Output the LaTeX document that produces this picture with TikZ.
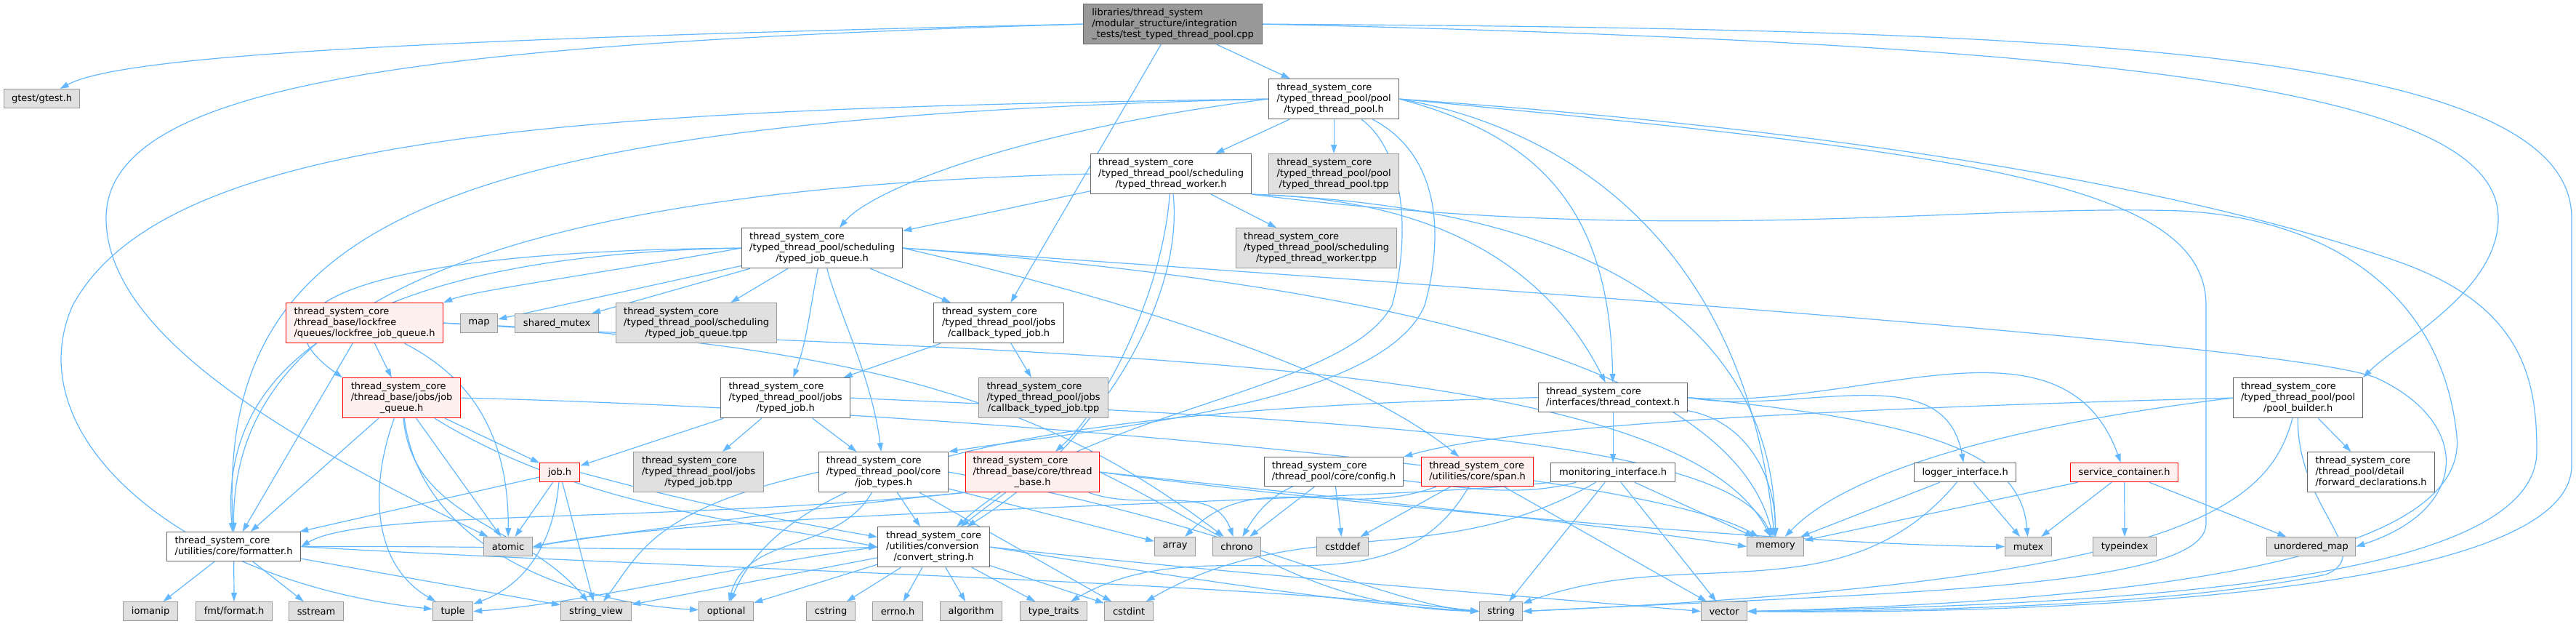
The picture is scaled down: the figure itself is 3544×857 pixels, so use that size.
\documentclass[tikz,border=0pt]{standalone}
\usepackage{fontspec}
\setmainfont{DejaVu Sans}
\usetikzlibrary{arrows.meta, positioning}
\definecolor{edgeblue}{HTML}{63B8FF}
\definecolor{rootgray}{HTML}{999999}
\definecolor{sysgray}{HTML}{E0E0E0}
\definecolor{redfill}{HTML}{FFF0F0}
\pgfdeclarelayer{background}
\pgfsetlayers{background,main}
\newcommand{\hpath}[2]{\begin{tabular}{@{}l@{}}#1\\\multicolumn{1}{@{}c@{}}{#2}\end{tabular}}

\begin{document}
\begin{tikzpicture}[x=0.25pt, y=-0.25pt,
  hbox/.style={draw, anchor=north west, inner sep=0pt, line width=0.3pt,
    font=\fontsize{3.25}{3.75}\selectfont, minimum width=#1*0.25pt},
  wbox/.style={hbox=#1, draw=black!60, fill=white},
  gbox/.style={hbox=#1, draw=black!40, fill=sysgray},
  rbox/.style={hbox=#1, draw=red, fill=redfill},
  rootbox/.style={hbox=#1, draw=black!60, fill=rootgray},
  h1/.style={minimum height=6.5pt},
  h2/.style={minimum height=10pt},
  h3/.style={minimum height=13.75pt},
  edge/.style={draw=edgeblue, line width=0.3pt, -{Triangle[length=3pt,width=2pt]}}
]
  \useasboundingbox (0,0) rectangle (3544,857);

  % top rows
  \node[rootbox=246, h3] (root) at (1490,5) {\hpath{libraries/thread\_system\\/modular\_structure/integration}{\_tests/test\_typed\_thread\_pool.cpp}};
  \node[gbox=104, h1] (gtest) at (5,122) {gtest/gtest.h};
  \node[wbox=179, h3] (ttpool) at (1745,108) {\hpath{thread\_system\_core\\/typed\_thread\_pool/pool}{/typed\_thread\_pool.h}};
  \node[wbox=221, h3] (ttworker) at (1500,211) {\hpath{thread\_system\_core\\/typed\_thread\_pool/scheduling}{/typed\_thread\_worker.h}};
  \node[gbox=179, h3] (ttpooltpp) at (1745,211) {\hpath{thread\_system\_core\\/typed\_thread\_pool/pool}{/typed\_thread\_pool.tpp}};
  \node[gbox=221, h3] (workertpp) at (1700,313) {\hpath{thread\_system\_core\\/typed\_thread\_pool/scheduling}{/typed\_thread\_worker.tpp}};
  \node[wbox=221, h3] (jobqueue) at (1020,313) {\hpath{thread\_system\_core\\/typed\_thread\_pool/scheduling}{/typed\_job\_queue.h}};

  \node[rbox=216, h3] (lockfree) at (393,416) {\hpath{thread\_system\_core\\/thread\_base/lockfree}{/queues/lockfree\_job\_queue.h}};
  \node[gbox=51, h1] (map) at (633,431) {map};
  \node[gbox=115, h1] (sharedmutex) at (708,431) {shared\_mutex};
  \node[gbox=221, h3] (jqtpp) at (847,416) {\hpath{thread\_system\_core\\/typed\_thread\_pool/scheduling}{/typed\_job\_queue.tpp}};
  \node[wbox=179, h3] (cbjob) at (1284,416) {\hpath{thread\_system\_core\\/typed\_thread\_pool/jobs}{/callback\_typed\_job.h}};

  \node[rbox=162, h3] (jobq) at (471,519) {\hpath{thread\_system\_core\\/thread\_base/jobs/job}{\_queue.h}};
  \node[wbox=178, h3] (typedjob) at (991,519) {\hpath{thread\_system\_core\\/typed\_thread\_pool/jobs}{/typed\_job.h}};
  \node[gbox=178, h3] (cbjobtpp) at (1346,519) {\hpath{thread\_system\_core\\/typed\_thread\_pool/jobs}{/callback\_typed\_job.tpp}};
  \node[wbox=205, h2] (threadctx) at (2116,526) {\hpath{thread\_system\_core}{/interfaces/thread\_context.h}};
  \node[wbox=178, h3] (poolbuilder) at (3072,519) {\hpath{thread\_system\_core\\/typed\_thread\_pool/pool}{/pool\_builder.h}};

  \node[rbox=55, h1] (jobh) at (742,636) {job.h};
  \node[gbox=179, h3] (typedjobtpp) at (871,621) {\hpath{thread\_system\_core\\/typed\_thread\_pool/jobs}{/typed\_job.tpp}};
  \node[wbox=178, h3] (jobtypes) at (1126,621) {\hpath{thread\_system\_core\\/typed\_thread\_pool/core}{/job\_types.h}};
  \node[rbox=184, h3] (threadbase) at (1328,621) {\hpath{thread\_system\_core\\/thread\_base/core/thread}{\_base.h}};
  \node[wbox=191, h2] (config) at (1739,628) {\hpath{thread\_system\_core}{/thread\_pool/core/config.h}};
  \node[rbox=154, h2] (span) at (1955,628) {\hpath{thread\_system\_core}{/utilities/core/span.h}};
  \node[wbox=171, h1] (monitor) at (2133,636) {monitoring\_interface.h};
  \node[wbox=140, h1] (logger) at (2633,636) {logger\_interface.h};
  \node[rbox=148, h1] (service) at (2848,636) {service\_container.h};
  \node[wbox=175, h3] (fwddecl) at (3174,621) {\hpath{thread\_system\_core\\/thread\_pool/detail}{/forward\_declarations.h}};

  \node[wbox=184, h2] (formatter) at (229,731) {\hpath{thread\_system\_core}{/utilities/core/formatter.h}};
  \node[wbox=154, h3] (convert) at (1207,724) {\hpath{thread\_system\_core\\/utilities/conversion}{/convert\_string.h}};
  \node[gbox=67, h1] (atomic) at (665,738) {atomic};
  \node[gbox=56, h1] (array) at (1588,738) {array};
  \node[gbox=66, h1] (chrono) at (1668,738) {chrono};
  \node[gbox=71, h1] (cstddef) at (1811,738) {cstddef};
  \node[gbox=78, h1] (memory) at (2403,738) {memory};
  \node[gbox=64, h1] (mutex) at (2758,738) {mutex};
  \node[gbox=87, h1] (typeindex) at (2879,738) {typeindex};
  \node[gbox=122, h1] (umap) at (3118,738) {unordered\_map};

  % bottom row
  \node[gbox=75, h1] (iomanip) at (169,827) {iomanip};
  \node[gbox=105, h1] (fmt) at (269,827) {fmt/format.h};
  \node[gbox=75, h1] (sstream) at (397,827) {sstream};
  \node[gbox=55, h1] (tuple) at (595,827) {tuple};
  \node[gbox=97, h1] (stringview) at (771,827) {string\_view};
  \node[gbox=75, h1] (optional) at (961,827) {optional};
  \node[gbox=67, h1] (cstring) at (1109,827) {cstring};
  \node[gbox=69, h1] (errno) at (1200,827) {errno.h};
  \node[gbox=85, h1] (algorithm) at (1293,827) {algorithm};
  \node[gbox=92, h1] (typetraits) at (1403,827) {type\_traits};
  \node[gbox=67, h1] (cstdint) at (1519,827) {cstdint};
  \node[gbox=59, h1] (string) at (2035,827) {string};
  \node[gbox=63, h1] (vector) at (2340,827) {vector};

  \begin{pgfonlayer}{background}
  \fill[white] (0,0) rectangle (3544,857);

  % test file
  \draw[edge] (root.west) .. controls (500,55) and (160,80) .. (gtest);
  \draw[edge] (root) -- (ttpool);
  \draw[edge] (root) -- (cbjob);
  \draw[edge] (root.west) .. controls (600,60) and (146,110) .. (146,300) .. controls (146,470) and (430,620) .. (atomic);
  \draw[edge] (root.east) .. controls (2900,60) and (3437,120) .. (3437,300) .. controls (3437,400) and (3300,470) .. (poolbuilder.north east);
  \draw[edge] (root.east) .. controls (2800,40) and (3538,60) .. (3538,300) -- (3538,640) .. controls (3538,820) and (2800,845) .. (vector.east);

  % typed_thread_pool.h
  \draw[edge] (ttpool) -- (ttworker);
  \draw[edge] (ttpool) -- (ttpooltpp);
  \draw[edge] (ttpool.west) .. controls (1400,180) and (1200,260) .. (jobqueue);
  \draw[edge] (ttpool.east) .. controls (2130,190) and (2215,300) .. (threadctx);
  \draw[edge] (ttpool.east) .. controls (2150,175) and (2400,330) .. (memory);
  \draw[edge] (ttpool) .. controls (1935,210) and (1940,330) .. (1915,420) .. controls (1850,540) and (1500,560) .. (convert);
  \draw[edge] (ttpool) .. controls (1985,215) and (1985,330) .. (1960,420) .. controls (1900,560) and (1500,590) .. (jobtypes.north east);
  \draw[edge] (ttpool.west) .. controls (800,150) and (230,180) .. (100,420) .. controls (20,600) and (250,800) .. (tuple);
  \draw[edge] (ttpool.west) .. controls (600,165) and (300,300) .. (formatter);
  \draw[edge] (ttpool.east) .. controls (2700,190) and (3100,290) .. (3300,360) .. controls (3470,420) and (3490,520) .. (3490,620) .. controls (3490,790) and (3000,830) .. (vector.east);
  \draw[edge] (ttpool.east) .. controls (2700,210) and (3035,250) .. (3035,420) -- (3035,720) .. controls (3035,810) and (2600,815) .. (string.east);

  % typed_thread_worker.h
  \draw[edge] (ttworker) -- (workertpp);
  \draw[edge] (ttworker) -- (jobqueue);
  \draw[edge] (ttworker) .. controls (1600,400) and (1520,560) .. (threadbase);
  \draw[edge] (ttworker) .. controls (1630,420) and (1500,620) .. (convert);
  \draw[edge] (ttworker.south east) .. controls (1920,272) and (2110,330) .. (threadctx);
  \draw[edge] (ttworker.west) .. controls (600,262) and (320,450) .. (formatter);
  \draw[edge] (ttworker.south east) .. controls (2200,285) and (2440,450) .. (memory);
  \draw[edge] (ttworker.south east) .. controls (2300,340) and (2700,280) .. (3000,290) .. controls (3200,300) and (3360,400) .. (3380,600) .. controls (3395,760) and (3000,825) .. (vector.east);

  % typed_job_queue.h
  \draw[edge] (jobqueue.west) .. controls (800,380) and (650,400) .. (lockfree.north east);
  \draw[edge] (jobqueue) -- (map);
  \draw[edge] (jobqueue) -- (sharedmutex);
  \draw[edge] (jobqueue) -- (jqtpp);
  \draw[edge] (jobqueue) -- (cbjob);
  \draw[edge] (jobqueue) .. controls (1115,420) and (1110,470) .. (typedjob);
  \draw[edge] (jobqueue) .. controls (1150,420) and (1200,520) .. (jobtypes);
  \draw[edge] (jobqueue.west) .. controls (500,345) and (330,420) .. (jobq.north west);
  \draw[edge] (jobqueue.west) .. controls (500,350) and (300,500) .. (formatter);
  \draw[edge] (jobqueue.east) .. controls (1500,400) and (1850,500) .. (span);
  \draw[edge] (jobqueue.east) .. controls (1900,390) and (2380,500) .. (memory);
  \draw[edge] (jobqueue.east) .. controls (2700,440) and (3200,490) .. (3270,520) .. controls (3400,580) and (3400,700) .. (umap.east);

  % lockfree_job_queue.h
  \draw[edge] (lockfree) -- (jobq);
  \draw[edge] (lockfree) -- (formatter);
  \draw[edge] (lockfree) .. controls (650,520) and (700,600) .. (atomic);
  \draw[edge] (lockfree.east) .. controls (1200,470) and (1450,560) .. (chrono);
  \draw[edge] (lockfree.east) .. controls (1300,490) and (2300,470) .. (memory);

  % jobs
  \draw[edge] (cbjob) -- (cbjobtpp);
  \draw[edge] (cbjob) -- (typedjob);
  \draw[edge] (typedjob) -- (typedjobtpp);
  \draw[edge] (typedjob) -- (jobtypes);
  \draw[edge] (typedjob) -- (jobh);
  \draw[edge] (typedjob.east) .. controls (1800,575) and (2380,600) .. (memory);

  % job_queue.h
  \draw[edge] (jobq) -- (jobh);
  \draw[edge] (jobq) -- (formatter);
  \draw[edge] (jobq) -- (atomic);
  \draw[edge] (jobq) to[out=-110, in=150] (tuple);
  \draw[edge] (jobq) to[out=-85, in=130] (stringview);
  \draw[edge] (jobq) .. controls (580,760) and (800,830) .. (optional);
  \draw[edge] (jobq) .. controls (800,700) and (1050,720) .. (convert.west);
  \draw[edge] (jobq.east) .. controls (1200,560) and (2250,640) .. (memory);

  % job.h
  \draw[edge] (jobh) -- (formatter);
  \draw[edge] (jobh) -- (atomic);
  \draw[edge] (jobh) to[out=-95, in=20] (tuple);
  \draw[edge] (jobh) -- (stringview);
  \draw[edge] (jobh.east) to[out=-15, in=170] (convert);

  % job_types.h
  \draw[edge] (jobtypes) -- (convert);
  \draw[edge] (jobtypes) -- (cstdint);
  \draw[edge] (jobtypes) to[out=-120, in=75] (optional);
  \draw[edge] (jobtypes.west) .. controls (900,700) and (880,760) .. (stringview);
  \draw[edge] (jobtypes.east) .. controls (1700,720) and (1900,830) .. (string.west);
  \draw[edge] (jobtypes) -- (array);

  % thread_base.h
  \draw[edge] (threadbase) -- (convert);
  \draw[edge] (threadbase.south west) .. controls (900,720) and (500,700) .. (formatter.east);
  \draw[edge] (threadbase.south west) .. controls (1100,700) and (800,740) .. (atomic.east);
  \draw[edge] (threadbase) to[out=-20, in=110] (chrono);
  \draw[edge] (threadbase.east) .. controls (1800,680) and (2200,720) .. (memory.west);
  \draw[edge] (threadbase.east) .. controls (1900,700) and (2500,750) .. (mutex.west);
  \draw[edge] (threadbase.east) .. controls (1700,740) and (1800,835) .. (string.west);

  % convert_string.h
  \draw[edge] (convert) -- (cstring);
  \draw[edge] (convert) -- (errno);
  \draw[edge] (convert) -- (algorithm);
  \draw[edge] (convert) -- (optional);
  \draw[edge] (convert.west) .. controls (1000,780) and (800,830) .. (tuple.east);
  \draw[edge] (convert) -- (stringview);
  \draw[edge] (convert) -- (typetraits);
  \draw[edge] (convert) -- (cstdint);
  \draw[edge] (convert.east) .. controls (1600,790) and (1850,830) .. (string.west);
  \draw[edge] (convert.east) .. controls (1700,790) and (2100,820) .. (vector.west);

  % formatter.h
  \draw[edge] (formatter) -- (iomanip);
  \draw[edge] (formatter) -- (fmt);
  \draw[edge] (formatter) -- (sstream);
  \draw[edge] (formatter) -- (stringview);
  \draw[edge] (formatter.east) .. controls (900,780) and (1700,800) .. (string.west);
  \draw[edge] (formatter.east) .. controls (700,750) and (1000,760) .. (convert.west);

  % interfaces
  \draw[edge] (threadctx) -- (monitor);
  \draw[edge] (threadctx.east) to[out=-10, in=100] (logger);
  \draw[edge] (threadctx.east) to[out=-5, in=110] (service);
  \draw[edge] (threadctx) to[out=-10, in=90] (memory);
  \draw[edge] (threadctx.west) .. controls (1600,560) and (1100,600) .. (optional);
  \draw[edge] (threadctx.east) .. controls (2650,580) and (2780,620) .. (mutex);

  \draw[edge] (monitor) -- (memory);
  \draw[edge] (monitor) -- (string);
  \draw[edge] (monitor) -- (vector);
  \draw[edge] (monitor) to[out=-165, in=60] (chrono);
  \draw[edge] (monitor.south west) .. controls (1900,690) and (1000,700) .. (atomic.east);
  \draw[edge] (monitor) to[out=-150, in=30] (cstdint);

  \draw[edge] (span) -- (cstddef);
  \draw[edge] (span) -- (vector);
  \draw[edge] (span) to[out=-120, in=30] (typetraits);
  \draw[edge] (span) to[out=-160, in=45] (array);

  \draw[edge] (config) -- (chrono);
  \draw[edge] (config) -- (cstddef);

  \draw[edge] (logger) -- (memory);
  \draw[edge] (logger) -- (mutex);
  \draw[edge] (logger) to[out=-130, in=20] (string);

  \draw[edge] (service) -- (memory);
  \draw[edge] (service) -- (mutex);
  \draw[edge] (service) -- (typeindex);
  \draw[edge] (service) -- (umap);

  % pool_builder.h
  \draw[edge] (poolbuilder) -- (fwddecl);
  \draw[edge] (poolbuilder.west) .. controls (2600,560) and (2100,580) .. (config.north east);
  \draw[edge] (poolbuilder.west) .. controls (2800,580) and (2550,640) .. (memory);
  \draw[edge] (poolbuilder) .. controls (3120,700) and (3000,800) .. (string.east);
  \draw[edge] (poolbuilder) .. controls (3160,700) and (3270,760) .. (3200,790) .. controls (3000,830) and (2700,840) .. (vector.east);
  \end{pgfonlayer}
\end{tikzpicture}
\end{document}
